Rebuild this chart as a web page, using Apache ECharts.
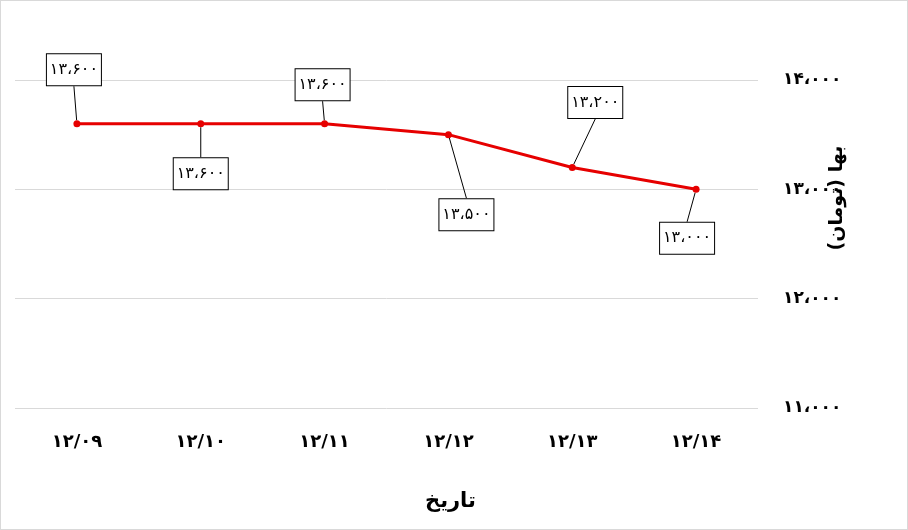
<!DOCTYPE html>
<html>
<head>
<meta charset="utf-8">
<script src="https://cdn.jsdelivr.net/npm/echarts@6/dist/echarts.min.js"></script>
<style>
html,body{margin:0;padding:0;background:#fff;}
#c{width:908px;height:530px;box-sizing:border-box;border:1px solid #d9d9d9;}
</style>
</head>
<body>
<div id="c"></div>
<script>
const categories = ['۱۲/۰۹','۱۲/۱۰','۱۲/۱۱','۱۲/۱۲','۱۲/۱۳','۱۲/۱۴'];
const prices = [13600, 13600, 13600, 13500, 13200, 13000];
const priceLabels = ['۱۳،۶۰۰','۱۳،۶۰۰','۱۳،۶۰۰','۱۳،۵۰۰','۱۳،۲۰۰','۱۳،۰۰۰'];
const yTickValues = [11000, 12000, 13000, 14000];
const yTickLabels = ['۱۱،۰۰۰','۱۲،۰۰۰','۱۳،۰۰۰','۱۴،۰۰۰'];
const yAxisTitle = 'بها (تومان)';
const xAxisTitle = 'تاریخ';

// label box offsets from each point (layout only)
const labelOffsets = [[-3,-54],[0,50],[-2,-39],[18,80],[23,-65],[-9,49]];

const FONT = "'DejaVu Sans', sans-serif";
const chart = echarts.init(document.getElementById('c'), null, {renderer:'canvas'});
chart.setOption({
  animation:false,
  grid:{left:14, right:149, top:79, bottom:121, containLabel:false},
  xAxis:{
    type:'category', data:categories, boundaryGap:true,
    axisLine:{show:false}, axisTick:{show:false},
    axisLabel:{color:'#000', fontSize:18, fontWeight:'bold', fontFamily:FONT, margin:25},
    splitLine:{show:false}
  },
  yAxis:{
    type:'value', position:'right', min:11000, max:14000, interval:1000,
    axisLine:{show:false}, axisTick:{show:false},
    axisLabel:{color:'#000', fontSize:17, fontWeight:'bold', fontFamily:FONT, margin:25,
      formatter:function(v){ const i = yTickValues.indexOf(v); return i>=0 ? yTickLabels[i] : ''; }},
    splitLine:{lineStyle:{color:'#d9d9d9', width:1}}
  },
  graphic:[
    {type:'text', left:424, top:490, style:{text:xAxisTitle, font:"bold 21px "+FONT, fill:'#000'}},
    {type:'text', x:836, y:197, rotation:Math.PI/2, style:{text:yAxisTitle, font:"bold 19px "+FONT, fill:'#000', align:'center', verticalAlign:'middle'}}
  ],
  series:[{
    type:'line', data:prices,
    symbol:'circle', symbolSize:7,
    lineStyle:{color:'#e60000', width:3},
    itemStyle:{color:'#e60000'},
    label:{
      show:true, position:'inside',
      formatter:function(p){ return priceLabels[p.dataIndex]; },
      color:'#000', fontSize:16, fontFamily:FONT,
      backgroundColor:'#fff', borderColor:'#000', borderWidth:1,
      padding:[8,8,7,8], width:38, align:'center'
    },
    labelLine:{show:true, lineStyle:{color:'#000', width:1}},
    labelLayout:function(p){
      const o = labelOffsets[p.dataIndex];
      return {dx:o[0], dy:o[1]};
    }
  }]
});
</script>
</body>
</html>
